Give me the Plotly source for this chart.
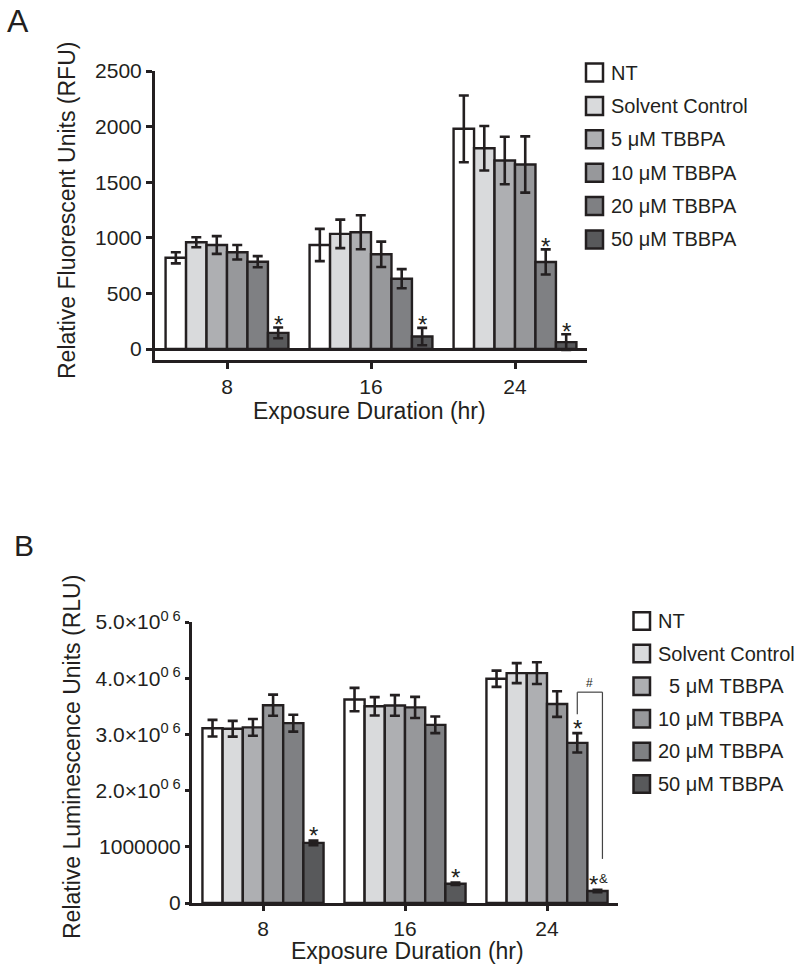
import plotly.graph_objects as go

# ---------------- data ----------------
categories = ["8", "16", "24"]
series_names = ["NT", "Solvent Control", "5 μM TBBPA", "10 μM TBBPA", "20 μM TBBPA", "50 μM TBBPA"]
legend_b_names = ["NT", "Solvent Control", "  5 μM TBBPA", "10 μM TBBPA", "20 μM TBBPA", "50 μM TBBPA"]

# Panel A: Relative Fluorescent Units (RFU)
nt_a = [820, 935, 1980]
nt_a_err = [50, 145, 300]
sc_a = [960, 1035, 1805]
sc_a_err = [45, 128, 200]
t5_a = [935, 1050, 1695]
t5_a_err = [80, 153, 214]
t10_a = [870, 852, 1659]
t10_a_err = [65, 114, 253]
t20_a = [785, 632, 783]
t20_a_err = [50, 86, 113]
t50_a = [145, 112, 62]
t50_a_err = [48, 78, 70]

# Panel B: Relative Luminescence Units (RLU)
nt_b = [3.11e6, 3.62e6, 3.99e6]
nt_b_err = [148e3, 208e3, 145e3]
sc_b = [3.10e6, 3.50e6, 4.09e6]
sc_b_err = [140e3, 163e3, 178e3]
t5_b = [3.125e6, 3.515e6, 4.09e6]
t5_b_err = [148e3, 184e3, 193e3]
t10_b = [3.52e6, 3.48e6, 3.54e6]
t10_b_err = [187e3, 187e3, 228e3]
t20_b = [3.20e6, 3.17e6, 2.85e6]
t20_b_err = [150e3, 148e3, 172e3]
t50_b = [1.07e6, 0.343e6, 0.213e6]
t50_b_err = [40e3, 20e3, 20e3]

yticks_a = [0, 500, 1000, 1500, 2000, 2500]
yticks_b = [0, 1e6, 2e6, 3e6, 4e6, 5e6]
yticktext_b = ["0", "1000000", "2.0×10<sup>0 6</sup>", "3.0×10<sup>0 6</sup>",
               "4.0×10<sup>0 6</sup>", "5.0×10<sup>0 6</sup>"]

# significance marks: (group index, series index, text, extra superscript mark)
sig_a = [(0, 5, "*", ""), (1, 5, "*", ""), (2, 4, "*", ""), (2, 5, "*", "")]
sig_b = [(0, 5, "*", ""), (1, 5, "*", ""), (2, 4, "*", ""), (2, 5, "*", "&")]

# ---------------- style ----------------
colors = ["#ffffff", "#d9dadc", "#aeafb2", "#97989b", "#7f8083", "#58595b"]
INK = "#231f20"
FONT = "Liberation Sans, Arial, sans-serif"
W, H = 800, 972
BARGAP = 0.147

vals_a = [nt_a, sc_a, t5_a, t10_a, t20_a, t50_a]
errs_a = [nt_a_err, sc_a_err, t5_a_err, t10_a_err, t20_a_err, t50_a_err]
vals_b = [nt_b, sc_b, t5_b, t10_b, t20_b, t50_b]
errs_b = [nt_b_err, sc_b_err, t5_b_err, t10_b_err, t20_b_err, t50_b_err]

fig = go.Figure()
for i, name in enumerate(series_names):
    fig.add_trace(go.Bar(
        x=categories, y=vals_a[i], name=name, xaxis="x", yaxis="y", showlegend=False,
        marker=dict(color=colors[i], line=dict(color=INK, width=2.4)),
        error_y=dict(type="data", array=errs_a[i], color=INK, thickness=2.6, width=5),
    ))
for i, name in enumerate(series_names):
    fig.add_trace(go.Bar(
        x=categories, y=vals_b[i], name=name, xaxis="x2", yaxis="y2", showlegend=False,
        marker=dict(color=colors[i], line=dict(color=INK, width=2.4)),
        error_y=dict(type="data", array=errs_b[i], color=INK, thickness=2.6, width=5),
    ))

def px_x(p):
    return p / W

def px_y(p):
    return 1 - p / H

bar_w = (1 - BARGAP) / 6

def bar_pos(g, i):
    return g + (i - 2.5) * bar_w

annotations = []
shapes = []

# significance asterisks
for g, i, t, extra in sig_a:
    annotations.append(dict(x=bar_pos(g, i), y=vals_a[i][g] + errs_a[i][g], xref="x", yref="y",
                            text=t, showarrow=False, yanchor="middle", yshift=3,
                            font=dict(family=FONT, size=24, color=INK)))
for g, i, t, extra in sig_b:
    xs = -4 if extra else 0
    annotations.append(dict(x=bar_pos(g, i), y=vals_b[i][g] + errs_b[i][g], xref="x2", yref="y2",
                            text=t, showarrow=False, yanchor="middle", yshift=5, xshift=xs,
                            font=dict(family=FONT, size=24, color=INK)))
    if extra:
        annotations.append(dict(x=bar_pos(g, i), y=vals_b[i][g] + errs_b[i][g], xref="x2", yref="y2",
                                text=extra.replace("&", "&amp;"), showarrow=False, yanchor="middle",
                                yshift=11, xshift=6, font=dict(family=FONT, size=13, color=INK)))

# bracket (#) between 20 and 50 uM at 24 hr, panel B
b_per_px = 5e6 / 281.0
left_x = bar_pos(2, 4)
right_x = bar_pos(2, 5) + 0.035
top_left = vals_b[4][2] + errs_b[4][2]
top_right = vals_b[5][2] + errs_b[5][2]
bracket_top = top_left + 41 * b_per_px
shapes += [
    dict(type="line", xref="x2", yref="y2", x0=left_x, x1=left_x,
         y0=top_left + 19 * b_per_px, y1=bracket_top, line=dict(color="#444", width=1.2)),
    dict(type="line", xref="x2", yref="y2", x0=left_x, x1=right_x,
         y0=bracket_top, y1=bracket_top, line=dict(color="#444", width=1.2)),
    dict(type="line", xref="x2", yref="y2", x0=right_x, x1=right_x,
         y0=top_right + 31 * b_per_px, y1=bracket_top, line=dict(color="#444", width=1.2)),
]
annotations.append(dict(x=(left_x + right_x) / 2, y=bracket_top, xref="x2", yref="y2",
                        text="#", showarrow=False, yanchor="bottom", yshift=0,
                        font=dict(family=FONT, size=12, color=INK)))

# legends (custom)
def add_legend(names, x_sq, x_txt, y0, dy, sq_w, sq_h):
    for k, nm in enumerate(names):
        yc = y0 + k * dy
        shapes.append(dict(type="rect", xref="paper", yref="paper",
                           x0=px_x(x_sq), x1=px_x(x_sq + sq_w),
                           y0=px_y(yc + sq_h / 2), y1=px_y(yc - sq_h / 2),
                           fillcolor=colors[k], line=dict(color=INK, width=2.5)))
        annotations.append(dict(x=px_x(x_txt), y=px_y(yc), xref="paper", yref="paper",
                                text=nm.replace(" ", "&nbsp;") if nm.startswith(" ") else nm,
                                showarrow=False, xanchor="left", yanchor="middle",
                                font=dict(family=FONT, size=20, color=INK)))

add_legend(series_names, 586, 609, 72.5, 33.4, 17, 18)
add_legend(legend_b_names, 633.5, 656, 621, 32.6, 16.5, 17.5)

# panel letters
annotations.append(dict(x=px_x(18), y=px_y(21), xref="paper", yref="paper", text="A",
                        showarrow=False, xanchor="center", yanchor="middle",
                        font=dict(family=FONT, size=32, color=INK)))
annotations.append(dict(x=px_x(24), y=px_y(545), xref="paper", yref="paper", text="B",
                        showarrow=False, xanchor="center", yanchor="middle",
                        font=dict(family=FONT, size=30, color=INK)))

# axis titles
annotations.append(dict(x=px_x(67), y=px_y(211), xref="paper", yref="paper",
                        text="Relative Fluorescent Units (RFU)", textangle=-90, showarrow=False,
                        xanchor="center", yanchor="middle", font=dict(family=FONT, size=23, color=INK)))
annotations.append(dict(x=px_x(369), y=px_y(411), xref="paper", yref="paper",
                        text="Exposure Duration (hr)", showarrow=False,
                        xanchor="center", yanchor="middle", font=dict(family=FONT, size=23, color=INK)))
annotations.append(dict(x=px_x(72), y=px_y(757), xref="paper", yref="paper",
                        text="Relative Luminescence Units (RLU)", textangle=-90, showarrow=False,
                        xanchor="center", yanchor="middle", font=dict(family=FONT, size=23, color=INK)))
annotations.append(dict(x=px_x(407), y=px_y(951), xref="paper", yref="paper",
                        text="Exposure Duration (hr)", showarrow=False,
                        xanchor="center", yanchor="middle", font=dict(family=FONT, size=23, color=INK)))

axis_common = dict(showline=True, linecolor=INK, linewidth=3, ticks="outside",
                   tickcolor=INK, tickwidth=3, showgrid=False, zeroline=False, automargin=False,
                   tickfont=dict(family=FONT, size=21, color=INK))

a_per_px = 2500 / 278.0

fig.update_layout(
    width=W, height=H, autosize=False,
    margin=dict(l=0, r=0, t=0, b=0, pad=0, autoexpand=False),
    paper_bgcolor="white", plot_bgcolor="white",
    barmode="group", bargap=BARGAP, bargroupgap=0,
    showlegend=False,
    xaxis=dict(axis_common, domain=[px_x(155), px_x(587)], anchor="y", type="category",
               range=[-0.5, 2.5], ticklen=6),
    yaxis=dict(axis_common, domain=[px_y(360), px_y(71)], anchor="x",
               range=[-11 * a_per_px, 2500], tickvals=yticks_a, ticklen=6,
               zeroline=True, zerolinecolor=INK, zerolinewidth=3),
    xaxis2=dict(axis_common, domain=[px_x(192), px_x(618)], anchor="y2", type="category",
                range=[-0.5, 2.5], ticklen=5),
    yaxis2=dict(axis_common, domain=[px_y(903), px_y(622)], anchor="x2",
                range=[0, 5e6], tickvals=yticks_b, ticktext=yticktext_b, ticklen=4),
    annotations=annotations,
    shapes=shapes,
)

fig.write_html(
    "out.html",
    config={"displayModeBar": False},
    post_script=(
        "document.documentElement.style.overflow='hidden';"
        "document.body.style.margin='0';document.body.style.overflow='hidden';"
        "var d=document.getElementById('{plot_id}');"
        "d.style.position='fixed';d.style.top='0px';d.style.left='0px';"
    ),
)
